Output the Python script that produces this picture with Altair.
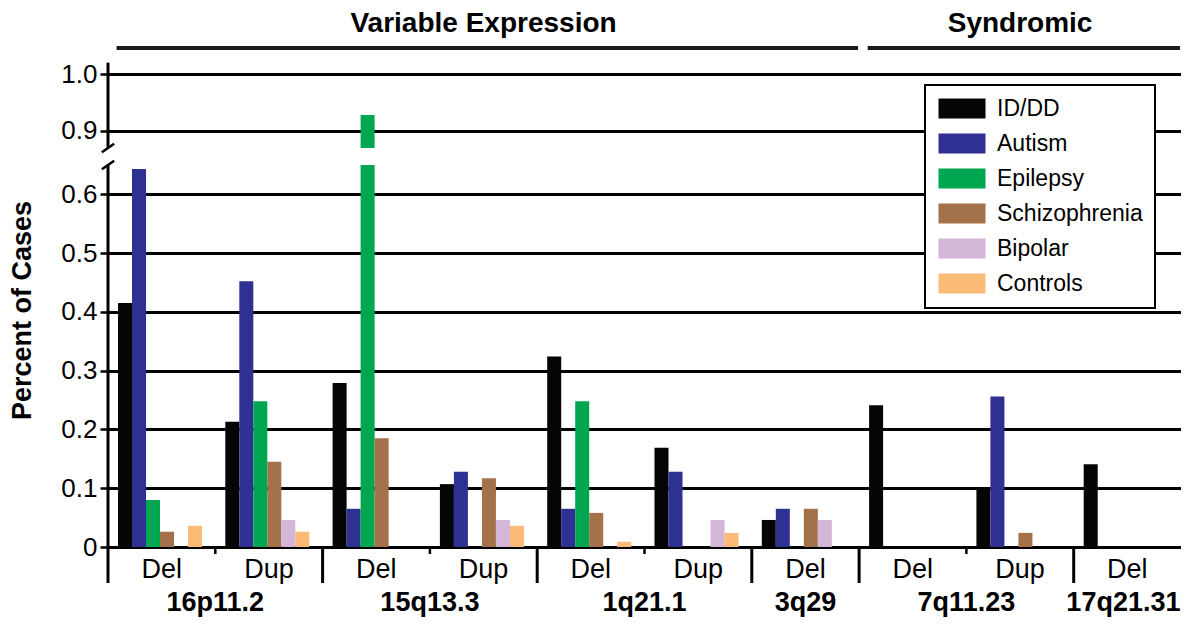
import altair as alt
import pandas as pd

# ---------------- data ----------------
loci = ["16p11.2", "16p11.2", "15q13.3", "15q13.3", "1q21.1", "1q21.1",
        "3q29", "7q11.23", "7q11.23", "17q21.31"]
cnv_types = ["Del", "Dup", "Del", "Dup", "Del", "Dup", "Del", "Del", "Dup", "Del"]

diseases = ["ID/DD", "Autism", "Epilepsy", "Schizophrenia", "Bipolar", "Controls"]
colors = ["#050505", "#2e3192", "#00a650", "#a3714a", "#d4b6d8", "#fcbb77"]

id_dd = [0.415, 0.213, 0.279, 0.107, 0.324, 0.169, 0.046, 0.241, 0.101, 0.141]
autism = [0.643, 0.452, 0.065, 0.128, 0.065, 0.128, 0.065, 0.0, 0.256, 0.0]
epilepsy = [0.080, 0.248, 0.928, 0.0, 0.248, 0.0, 0.0, 0.0, 0.0, 0.0]
schizophrenia = [0.026, 0.145, 0.185, 0.117, 0.058, 0.0, 0.065, 0.0, 0.024, 0.0]
bipolar = [0.0, 0.046, 0.0, 0.046, 0.0, 0.046, 0.046, 0.0, 0.0, 0.0]
controls = [0.036, 0.026, 0.0, 0.036, 0.009, 0.024, 0.0, 0.0, 0.0, 0.0]

header_labels = ["Variable Expression", "Syndromic"]
header_first = ["16p11.2", "7q11.23"]
header_last = ["3q29", "17q21.31"]

y_ticks = [0, 0.1, 0.2, 0.3, 0.4, 0.5, 0.6, 0.9, 1.0]
BRK_LO, BRK_HI = 0.65, 0.87

# ---------------- tables ----------------
keys = [f"{l}|{t}" for l, t in zip(loci, cnv_types)]
series = [id_dd, autism, epilepsy, schizophrenia, bipolar, controls]

rows = []
for d, vals in zip(diseases, series):
    for k, l, t, v in zip(keys, loci, cnv_types, vals):
        rows.append({"key": k, "locus": l, "type": t, "disease": d, "value": v})
bars_df = pd.DataFrame(rows)

locus_order = list(dict.fromkeys(loci))
grp_rows, sep_rows = [], []
for i, l in enumerate(locus_order):
    ks = [k for k, ll in zip(keys, loci) if ll == l]
    sep_rows.append({"key": ks[0], "kind": "major"})
    for k in ks[1:]:
        sep_rows.append({"key": k, "kind": "minor"})
    if i == len(locus_order) - 1:
        kind = "last"
    elif len(ks) == 2:
        kind = "pair"
    else:
        kind = "single"
    grp_rows.append({"locus": l, "anchor": ks[1] if kind == "pair" else ks[0],
                     "kind": kind})
grp_df = pd.DataFrame(grp_rows)
sep_df = pd.DataFrame(sep_rows)

hdr_rows = []
for lab, f, la in zip(header_labels, header_first, header_last):
    i0 = loci.index(f)
    i1 = len(loci) - 1 - loci[::-1].index(la)
    hdr_rows.append({"label": lab, "first": keys[i0], "last": keys[i1],
                     "mid": keys[(i0 + i1) // 2]})
hdr_df = pd.DataFrame(hdr_rows)

axis_df = pd.DataFrame({"lo": [0.0, BRK_HI], "hi": [BRK_LO, 1.02]})
slash_df = pd.DataFrame({"y": [BRK_LO, BRK_HI]})

# ---------------- scales ----------------
W, H = 1073, 473
XS = alt.Scale(domain=keys, paddingInner=0, paddingOuter=0)
YS = alt.Scale(domain=[0, BRK_LO, BRK_HI, 1.0], range=[H, 91, 74, 0],
               nice=False, zero=False)
CS = alt.Scale(domain=diseases, range=colors)
OS = alt.Scale(domain=diseases, paddingInner=0, paddingOuter=0.83, align=0.43)

x_axis = alt.Axis(labelExpr="split(datum.label, '|')[1]", ticks=False, tickSize=0,
                  domain=False, labelAngle=0, labelFontSize=27, labelPadding=9,
                  labelBaseline="top", labelColor="black", grid=False, title=None)
y_axis = alt.Axis(values=y_ticks,
                  labelExpr="datum.value == 0 ? '0' : format(datum.value, '.1f')",
                  grid=True, gridColor="black", gridWidth=3, gridOpacity=1,
                  domain=False, ticks=True, tickSize=8, tickWidth=2.5,
                  tickColor="black", labelFontSize=26, labelPadding=3,
                  labelColor="black", title="Percent of Cases",
                  titleFontSize=27, titleFontWeight="bold", titleColor="black",
                  titleX=-72, titleY=236)

legend = alt.Legend(title=None, orient="none", legendX=817, legendY=11,
                    symbolType="M-1,-1H3.7V1H-1Z", symbolSize=400,
                    symbolStrokeWidth=0, symbolOpacity=1, labelFontSize=23,
                    labelOffset=37, rowPadding=11, padding=12,
                    strokeColor="black", fillColor="white", labelLimit=300,
                    labelColor="black")

base = alt.Chart(bars_df).transform_filter("datum.value > 0")

bars_lo = base.transform_calculate(
    lower=f"min(datum.value, {BRK_LO})"
).mark_bar().encode(
    x=alt.X("key:N", scale=XS, axis=x_axis),
    xOffset=alt.XOffset("disease:N", scale=OS),
    y=alt.Y("lower:Q", scale=YS, stack=None, axis=y_axis),
    color=alt.Color("disease:N", scale=CS, legend=legend),
)

bars_hi = base.transform_filter(f"datum.value > {BRK_HI}").transform_calculate(
    brk=f"{BRK_HI}"
).mark_bar().encode(
    x=alt.X("key:N", scale=XS, axis=None),
    xOffset=alt.XOffset("disease:N", scale=OS),
    y=alt.Y("value:Q", scale=YS, stack=None, axis=None),
    y2="brk:Q",
    color=alt.Color("disease:N", scale=CS, legend=None),
)

yaxis_line = alt.Chart(axis_df).mark_rule(color="black", strokeWidth=3).encode(
    x=alt.value(0),
    y=alt.Y("lo:Q", scale=YS, axis=None),
    y2="hi:Q",
)

slashes = alt.Chart(slash_df).mark_point(
    shape="M-1,0.7L1,-0.7", filled=False, size=150, strokeWidth=2.5,
    color="black", opacity=1
).encode(
    x=alt.value(0),
    y=alt.Y("y:Q", scale=YS, axis=None),
)

sep_major = alt.Chart(sep_df).transform_filter("datum.kind == 'major'").mark_rule(
    color="black", strokeWidth=3
).encode(
    x=alt.X("key:N", scale=XS, axis=None, bandPosition=0),
    y=alt.value(H), y2=alt.value(H + 36),
)
sep_minor = alt.Chart(sep_df).transform_filter("datum.kind == 'minor'").mark_rule(
    color="black", strokeWidth=2.5
).encode(
    x=alt.X("key:N", scale=XS, axis=None, bandPosition=0),
    y=alt.value(H), y2=alt.value(H + 7),
)

def grp_layer(kind, band_pos, align):
    return alt.Chart(grp_df).transform_filter(f"datum.kind == '{kind}'").mark_text(
        fontSize=27, fontWeight="bold", baseline="alphabetic", align=align,
        color="black"
    ).encode(
        x=alt.X("anchor:N", scale=XS, axis=None, bandPosition=band_pos),
        y=alt.value(H + 64),
        text="locus:N",
    )

grp_pairs = grp_layer("pair", 0, "center")
grp_single = grp_layer("single", 0.5, "center")
grp_last = grp_layer("last", 0.995, "right")

hdr_rule = alt.Chart(hdr_df).mark_rule(color="#1a1a1a", strokeWidth=4).encode(
    x=alt.X("first:N", scale=XS, axis=None, bandPosition=0.08),
    x2=alt.X2("last:N", bandPosition=0.99),
    y=alt.value(-26),
)
hdr_text = alt.Chart(hdr_df).mark_text(
    fontSize=28, fontWeight="bold", baseline="alphabetic", align="center",
    color="black"
).encode(
    x=alt.X("mid:N", scale=XS, axis=None, bandPosition=0.5),
    y=alt.value(-42),
    text="label:N",
)

chart = alt.layer(
    bars_lo, bars_hi, yaxis_line, slashes, sep_major, sep_minor,
    grp_pairs, grp_single, grp_last, hdr_rule, hdr_text
).resolve_axis(
    x="independent", y="independent"
).properties(
    width=W, height=H,
    autosize=alt.AutoSizeParams(type="none"),
    padding={"left": 100, "top": 66, "right": 0, "bottom": 70},
).configure(
    font="Liberation Sans"
).configure_view(
    strokeWidth=0
).configure_legend(
    strokeWidth=2
)

chart.save("out.html", embed_options={"renderer": "svg", "actions": False})
